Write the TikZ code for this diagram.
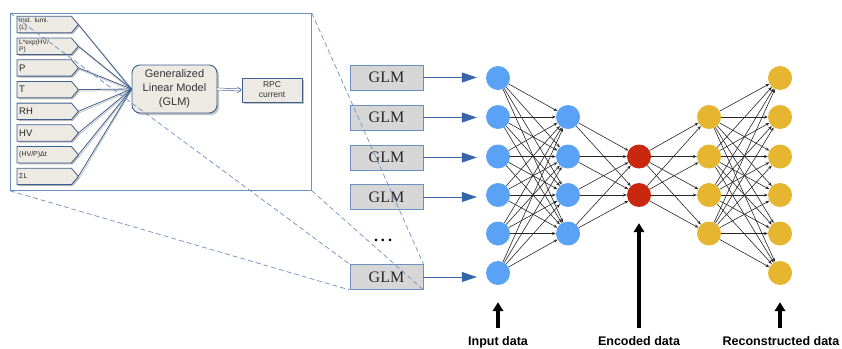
\documentclass[tikz,border=0pt]{standalone}
\usepackage{fontspec}
\setmainfont{Liberation Serif}
\newfontfamily\arial{Liberation Sans}
\usetikzlibrary{arrows.meta,shadows}
\pgfdeclarelayer{background}
\pgfsetlayers{background,main}

\definecolor{frameblue}{HTML}{6E8FC2}
\definecolor{inkblue}{HTML}{3F5F8F}
\definecolor{boxbeige}{HTML}{ECEAE2}
\definecolor{glmgray}{HTML}{D6D6D6}
\definecolor{feedblue}{HTML}{3566A8}
\definecolor{encblue}{HTML}{5AA2F5}
\definecolor{codered}{HTML}{C9270F}
\definecolor{decyellow}{HTML}{E7B630}

\begin{document}
\begin{tikzpicture}[x=1pt,y=-1pt,
  inbox/.style={anchor=west, text width=50pt, inner xsep=2pt, inner ysep=0pt,
    minimum height=16pt, align=left, text=black!85,
    font=\arial\fontsize{6.5}{7.5}\selectfont},
  bigtxt/.style={font=\arial\fontsize{9.5}{10}\selectfont},
  midtxt/.style={font=\arial\fontsize{7}{8}\selectfont},
  inshape/.style={draw=inkblue, fill=boxbeige, line width=0.8pt,
    drop shadow={shadow xshift=1.5pt, shadow yshift=-1.5pt, fill=black!45, opacity=0.6}},
  feedline/.style={draw=inkblue, line width=0.8pt},
  feedshade/.style={draw=black!25, line width=0.7pt},
  glmnode/.style={draw=inkblue, fill=boxbeige, line width=0.9pt, rounded corners=8pt,
    minimum width=85pt, minimum height=48pt, align=center, inner sep=0pt,
    font=\arial\fontsize{11}{14}\selectfont, text=black!80,
    drop shadow={shadow xshift=2pt, shadow yshift=-2pt, fill=black!40, opacity=0.6}},
  rpcbox/.style={draw=inkblue, fill=boxbeige, line width=0.8pt,
    minimum width=60pt, minimum height=24pt, align=center, inner sep=0pt,
    font=\arial\fontsize{8.5}{10}\selectfont, text=black!80,
    drop shadow={shadow xshift=1.5pt, shadow yshift=-1.5pt, fill=black!40, opacity=0.6}},
  glmbox/.style={draw=frameblue, fill=glmgray, line width=0.8pt,
    minimum width=73pt, minimum height=25pt, inner sep=0pt,
    font=\fontsize{16}{18}\selectfont, text=black!85},
  zoomline/.style={draw=frameblue, line width=0.7pt, dash pattern=on 5pt off 3pt},
  feedarrow/.style={draw=feedblue, line width=0.8pt,
    -{Triangle[length=15pt,width=10pt]}, shorten >=9pt},
  neuron/.style={circle, minimum size=24pt, inner sep=0pt, draw=none},
  edge/.style={draw=black!85, line width=0.6pt, -{Stealth[length=3.8pt,width=3pt]}},
  bigarrow/.style={draw=black, line width=3.2pt, -{Triangle[length=9pt,width=10.5pt]}},
  lab/.style={anchor=base, inner sep=0pt, font=\arial\bfseries\fontsize{12.5}{14}\selectfont}
]
\useasboundingbox (0,0) rectangle (842,348);

% ---- GLM detail panel ----
\node[draw=frameblue, line width=0.8pt, minimum width=301pt, minimum height=177pt,
      inner sep=0pt, anchor=north west] (frame) at (10,13) {};

\node[inbox] (in1) at (17,24.5) {Inst. lumi.\\(L)};
\node[inbox] (in2) at (17,46.2) {L*exp(HV/\\P)};
\node[inbox,bigtxt] (in3) at (17,67.9) {P};
\node[inbox,bigtxt] (in4) at (17,89.6) {T};
\node[inbox,bigtxt] (in5) at (17,111.3) {RH};
\node[inbox,bigtxt] (in6) at (17,133) {HV};
\node[inbox,midtxt] (in7) at (17,154.7) {(HV/P)Δt};
\node[inbox,midtxt] (in8) at (17,176.4) {ΣL};
\foreach \k in {1,...,8} \coordinate (tip\k) at ([xshift=7pt]in\k.east);

\begin{pgfonlayer}{background}
  \foreach \k in {1,...,8}
    \path[inshape] (in\k.north west) -- (in\k.north east) -- (tip\k)
      -- (in\k.south east) -- (in\k.south west) -- cycle;
\end{pgfonlayer}

\node[glmnode] (glm) at (174.5,89) {Generalized\\Linear Model\\(GLM)};
\node[rpcbox] (rpc) at (272,90) {RPC\\current};

\begin{pgfonlayer}{background}
  \foreach \k in {1,...,8} {
    \draw[feedshade] ([shift={(1pt,-1.5pt)}]tip\k) -- ([shift={(0pt,-1.5pt)}]glm.west);
    \draw[feedline] (tip\k) -- (glm.west);
  }
\end{pgfonlayer}

\draw[draw=inkblue, line width=0.5pt, double=white, double distance=1.6pt,
      -{Straight Barb[length=4pt,width=6pt]}] (glm.east) -- (rpc.west);

% ---- GLM stack ----
\node[glmbox] (g1) at (386.5,77.5) {GLM};
\node[glmbox] (g2) at (386.5,117.5) {GLM};
\node[glmbox] (g3) at (386.5,157.5) {GLM};
\node[glmbox] (g4) at (386.5,197) {GLM};
\node[glmbox] (g5) at (386.5,277) {GLM};
\node[font=\bfseries\fontsize{16}{18}\selectfont, inner sep=0pt] (dots) at (383,240) {.\kern3pt.\kern3pt.};

% ---- autoencoder ----
\foreach \k/\y in {1/78,2/117,3/156.5,4/195,5/233.5,6/273}
  \node[neuron, fill=encblue] (a\k) at (498,\y) {};
\foreach \k/\y in {1/117,2/156.5,3/195,4/233.5}
  \node[neuron, fill=encblue] (b\k) at (568,\y) {};
\foreach \k/\y in {1/156.5,2/195}
  \node[neuron, fill=codered] (c\k) at (639,\y) {};
\foreach \k/\y in {1/117,2/156.5,3/195,4/233.5}
  \node[neuron, fill=decyellow] (d\k) at (709,\y) {};
\foreach \k/\y in {1/78,2/117,3/156.5,4/195,5/233.5,6/273}
  \node[neuron, fill=decyellow] (e\k) at (780,\y) {};

\foreach \i in {1,...,6} \foreach \j in {1,...,4} \draw[edge] (a\i) -- (b\j);
\foreach \i in {1,...,4} \foreach \j in {1,2} \draw[edge] (b\i) -- (c\j);
\foreach \i in {1,2} \foreach \j in {1,...,4} \draw[edge] (c\i) -- (d\j);
\foreach \i in {1,...,4} \foreach \j in {1,...,6} \draw[edge] (d\i) -- (e\j);

% GLM outputs feed the input layer
\draw[feedarrow] (g1.east) -- (g1.east -| a1.west);
\draw[feedarrow] (g2.east) -- (g2.east -| a2.west);
\draw[feedarrow] (g3.east) -- (g3.east -| a3.west);
\draw[feedarrow] (g4.east) -- (g4.east -| a4.west);
\draw[feedarrow] (g5.east) -- (g5.east -| a6.west);

% ---- captions ----
\node[lab] (lin) at (498,345) {Input data};
\node[lab] (lenc) at (639,345) {Encoded data};
\node[lab] (lrec) at (781,345) {Reconstructed data};
\draw[bigarrow, shorten <=8pt, shorten >=17pt] (lin.north) -- (a6.south);
\draw[bigarrow, shorten <=8pt, shorten >=16pt] (lenc.north) -- (c2.south);
\draw[bigarrow, shorten <=8pt, shorten >=17pt] (lrec.north -| e6) -- (e6.south);

% ---- zoom guides from the panel to the last GLM box ----
\draw[zoomline] (frame.north west) -- (g5.north west);
\draw[zoomline] (frame.north east) -- (g5.north east);
\draw[zoomline] (frame.south west) -- (g5.south west);
\draw[zoomline] (frame.south east) -- (g5.south east);
\end{tikzpicture}
\end{document}
